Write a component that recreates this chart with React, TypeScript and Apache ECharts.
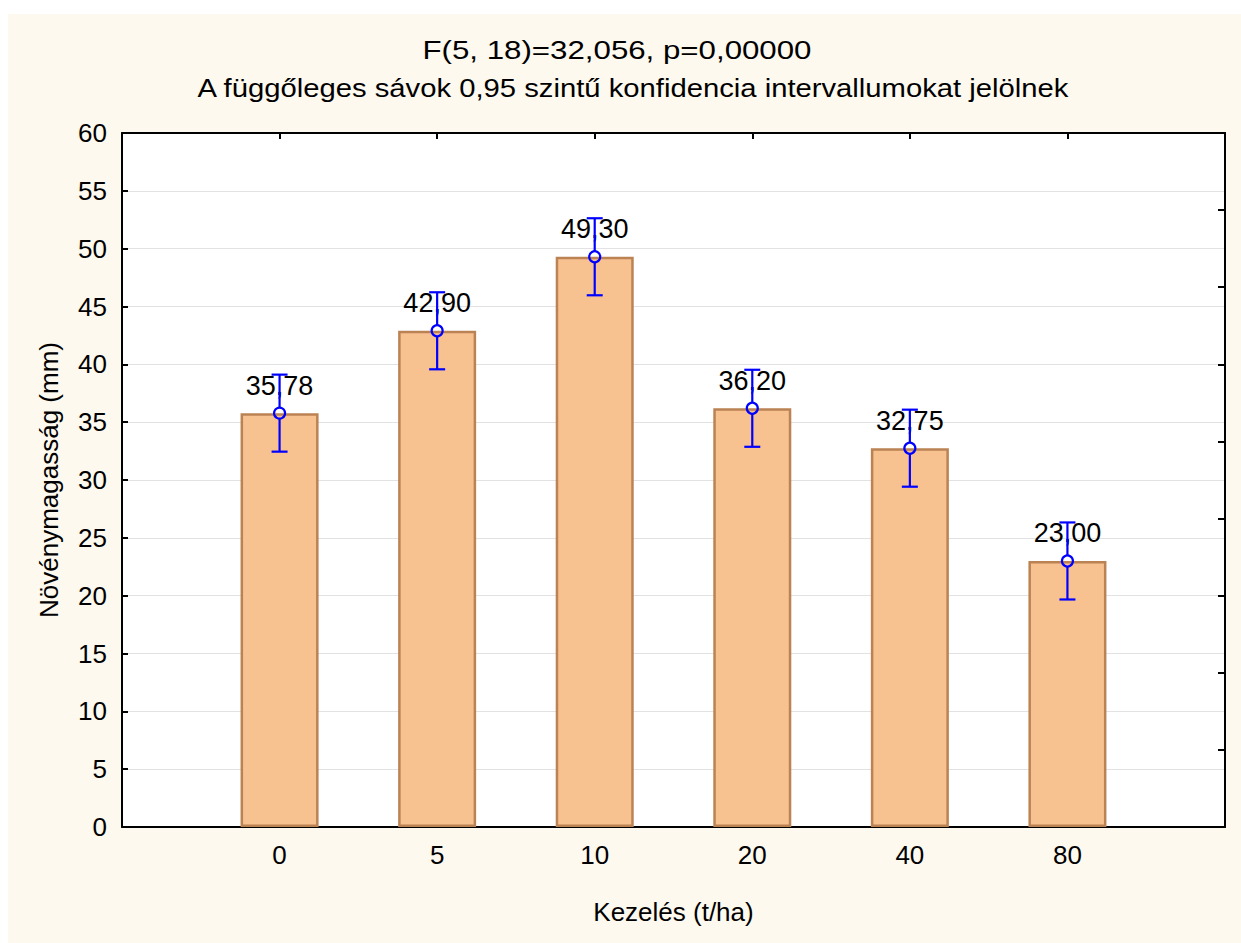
import React, { useEffect, useRef } from "react";
import * as echarts from "echarts";

const categories = ["0", "5", "10", "20", "40", "80"];
const means = [35.78, 42.9, 49.3, 36.2, 32.75, 23.0];
const ciLower = [32.45, 39.57, 45.97, 32.87, 29.42, 19.67];
const ciUpper = [39.11, 46.23, 52.63, 39.53, 36.08, 26.33];

const titleLine1 = "F(5, 18)=32,056, p=0,00000";
const titleLine2 = "A függőleges sávok 0,95 szintű konfidencia intervallumokat jelölnek";
const xName = "Kezelés (t/ha)";
const yName = "Növénymagasság (mm)";

const FONT = "'Liberation Sans', Arial, sans-serif";

export default function App() {
  const ref = useRef<HTMLDivElement>(null);

  useEffect(() => {
    if (!ref.current) return;
    const chart = echarts.init(ref.current, undefined, { renderer: "svg" });

    const barData = means.map((v, i) => [i + 1, v]);
    const errData = means.map((v, i) => [i + 1, ciLower[i], ciUpper[i], v]);

    const axisLine = { show: true, onZero: false, lineStyle: { color: "#000", width: 2 } };
    const axisTick = { show: true, inside: true, length: 6, lineStyle: { color: "#000", width: 2 } };

    chart.setOption({
      animation: false,
      textStyle: { fontFamily: FONT },
      graphic: [
        {
          type: "text",
          x: 609,
          y: 36,
          scaleX: 1.25,
          silent: true,
          style: {
            text: titleLine1,
            fontSize: 25,
            fontFamily: FONT,
            fill: "#000",
            textAlign: "center",
            textVerticalAlign: "middle",
          },
        },
        {
          type: "text",
          x: 625,
          y: 74,
          scaleX: 1.17,
          silent: true,
          style: {
            text: titleLine2,
            fontSize: 25,
            fontFamily: FONT,
            fill: "#000",
            textAlign: "center",
            textVerticalAlign: "middle",
          },
        },
      ],
      grid: {
        left: 114,
        top: 119,
        right: 16,
        bottom: 116,
        show: true,
        backgroundColor: "#ffffff",
        borderWidth: 0,
      },
      xAxis: [
        {
          type: "value",
          position: "bottom",
          min: 0,
          max: 7,
          interval: 1,
          axisLine,
          axisTick,
          splitLine: { show: false },
          axisLabel: {
            formatter: (v: number) => categories[Math.round(v) - 1] ?? "",
            fontSize: 26,
            color: "#000",
            margin: 15,
            fontFamily: FONT,
          },
          name: xName,
          nameLocation: "middle",
          nameGap: 72,
          nameTextStyle: { fontSize: 26, color: "#000", fontFamily: FONT },
        },
        {
          type: "value",
          position: "top",
          min: 0,
          max: 7,
          interval: 1,
          axisLine,
          axisTick,
          splitLine: { show: false },
          axisLabel: { show: false },
        },
      ],
      yAxis: [
        {
          type: "value",
          position: "left",
          min: 0,
          max: 60,
          interval: 5,
          axisLine,
          axisTick,
          splitLine: { show: true, lineStyle: { color: "#e2e2e2", width: 1 } },
          axisLabel: { fontSize: 26, color: "#000", margin: 15, fontFamily: FONT },
          name: yName,
          nameLocation: "middle",
          nameGap: 60,
          nameTextStyle: { fontSize: 26, color: "#000", fontFamily: FONT },
        },
        {
          type: "value",
          position: "right",
          min: 0,
          max: 9,
          interval: 1,
          axisLine,
          axisTick: { ...axisTick, length: 7 },
          splitLine: { show: false },
          axisLabel: { show: false },
        },
      ],
      series: [
        {
          type: "bar",
          xAxisIndex: 0,
          yAxisIndex: 0,
          data: barData,
          barWidth: 78,
          itemStyle: { color: "#f8c190", borderColor: "#bb8253", borderWidth: 2.5 },
          label: {
            show: true,
            position: "top",
            distance: 14,
            fontSize: 27,
            color: "#000",
            fontFamily: FONT,
            formatter: (p: any) => Number(p.value[1]).toFixed(2).replace(".", ","),
          },
          z: 2,
        },
        {
          type: "custom",
          xAxisIndex: 0,
          yAxisIndex: 0,
          data: errData,
          z: 3,
          renderItem: (params: any, api: any) => {
            const x = api.value(0);
            const lo = api.coord([x, api.value(1)]);
            const hi = api.coord([x, api.value(2)]);
            const mid = api.coord([x, api.value(3)]);
            const r = 5.5;
            const cap = 8;
            const style = { stroke: "#0000ff", lineWidth: 2.2, fill: "none" };
            return {
              type: "group",
              children: [
                { type: "line", shape: { x1: hi[0], y1: hi[1], x2: mid[0], y2: mid[1] - r }, style },
                { type: "line", shape: { x1: mid[0], y1: mid[1] + r, x2: lo[0], y2: lo[1] }, style },
                { type: "line", shape: { x1: hi[0] - cap, y1: hi[1], x2: hi[0] + cap, y2: hi[1] }, style },
                { type: "line", shape: { x1: lo[0] - cap, y1: lo[1], x2: lo[0] + cap, y2: lo[1] }, style },
                { type: "circle", shape: { cx: mid[0], cy: mid[1], r }, style },
              ],
            };
          },
        },
      ],
    });

    return () => chart.dispose();
  }, []);

  return (
    <div
      ref={ref}
      style={{
        position: "absolute",
        left: 8,
        top: 14,
        width: 1233,
        height: 929,
        background: "#fdf9ef",
      }}
    />
  );
}
